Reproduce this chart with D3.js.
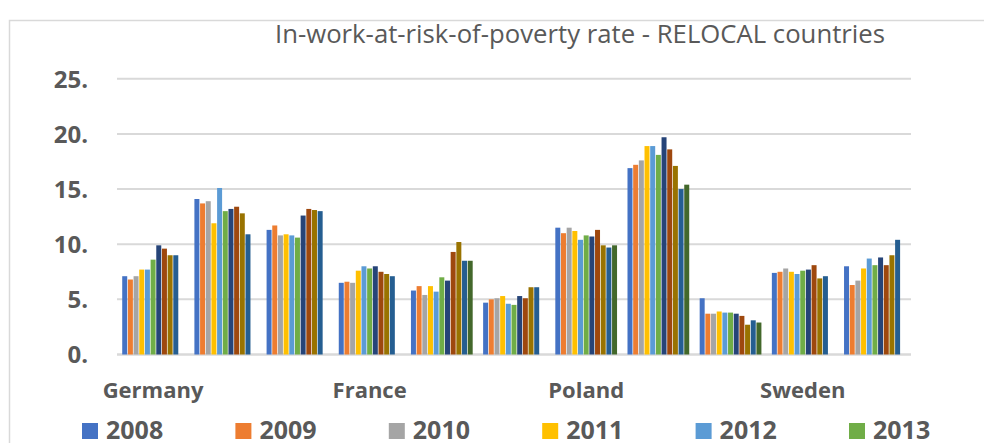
<!DOCTYPE html>
<html>
<head>
<meta charset="utf-8">
<script src="https://cdn.jsdelivr.net/npm/d3@7"></script>
<style>
  html, body { margin: 0; padding: 0; background: #fff; }
  svg { display: block; }
  text { font-family: "Open Sans", "DejaVu Sans", sans-serif; fill: #595959; }
</style>
</head>
<body>
<svg id="chart" width="984" height="443"></svg>
<script>
// In-work at-risk-of-poverty rate (%), by country and year
const countries = ["Germany", "Greece", "Spain", "France", "Hungary", "Netherlands",
                   "Poland", "Romania", "Finland", "Sweden", "United Kingdom"];
const years = ["2008", "2009", "2010", "2011", "2012", "2013",
               "2014", "2015", "2016", "2017", "2018"];
const colors = ["#4472C4", "#ED7D31", "#A5A5A5", "#FFC000", "#5B9BD5", "#70AD47",
                "#264478", "#9E480E", "#997300", "#255E91", "#43682B"];
const yTicks = [0, 5, 10, 15, 20, 25];

// one array per country, 2008..2018 (null = not available)
const germany     = [7.1, 6.8, 7.1, 7.7, 7.7, 8.6, 9.9, 9.6, 9.0, 9.0, null];
const greece      = [14.1, 13.7, 13.9, 11.9, 15.1, 13.0, 13.2, 13.4, 12.8, 10.9, null];
const spain       = [11.3, 11.7, 10.8, 10.9, 10.8, 10.6, 12.6, 13.2, 13.1, 13.0, null];
const france      = [6.5, 6.6, 6.5, 7.6, 8.0, 7.8, 8.0, 7.5, 7.3, 7.1, null];
const hungary     = [5.8, 6.2, 5.4, 6.2, 5.7, 7.0, 6.7, 9.3, 10.2, 8.5, 8.5];
const netherlands = [4.7, 5.0, 5.1, 5.3, 4.6, 4.5, 5.3, 5.1, 6.1, 6.1, null];
const poland      = [11.5, 11.0, 11.5, 11.2, 10.4, 10.8, 10.7, 11.3, 9.9, 9.7, 9.9];
const romania     = [16.9, 17.2, 17.6, 18.9, 18.9, 18.1, 19.7, 18.6, 17.1, 15.0, 15.4];
const finland     = [5.1, 3.7, 3.7, 3.9, 3.8, 3.8, 3.7, 3.5, 2.7, 3.1, 2.9];
const sweden      = [7.4, 7.5, 7.8, 7.5, 7.3, 7.6, 7.7, 8.1, 6.9, 7.1, null];
const uk          = [8.0, 6.3, 6.7, 7.8, 8.7, 8.1, 8.8, 8.1, 9.0, 10.4, null];

const values = [germany, greece, spain, france, hungary, netherlands,
                poland, romania, finland, sweden, uk];

const svg = d3.select("#chart");

// chart area frame
svg.append("rect")
  .attr("x", 9.5).attr("y", 20.5)
  .attr("width", 990).attr("height", 460)
  .attr("fill", "none").attr("stroke", "#d9d9d9").attr("stroke-width", 1.5);

// title
svg.append("text")
  .attr("x", 275).attr("y", 43)
  .attr("font-size", 25)
  .attr("textLength", 610).attr("lengthAdjust", "spacingAndGlyphs")
  .text("In-work-at-risk-of-poverty rate - RELOCAL countries");

const plotLeft = 117, plotRight = 911;

const y = d3.scaleLinear().domain([0, 25]).range([354.5, 78.8]);

const x0 = d3.scaleBand().domain(countries).range([plotLeft, plotRight]);
const x1 = d3.scaleBand().domain(years).range([0, x0.bandwidth()])
  .paddingInner(0.12).paddingOuter(0.92);

// gridlines
svg.append("g")
  .selectAll("line")
  .data(yTicks)
  .join("line")
  .attr("x1", plotLeft).attr("x2", plotRight)
  .attr("y1", d => y(d)).attr("y2", d => y(d))
  .attr("stroke", "#d9d9d9")
  .attr("stroke-width", d => d === 0 ? 2.5 : 2);

// y axis labels
const yAxis = d3.axisLeft(y).tickValues(yTicks).tickFormat(d => d + ".").tickSize(0).tickPadding(0);
const yg = svg.append("g").attr("transform", "translate(88,0)").call(yAxis);
yg.select(".domain").remove();
yg.selectAll("text")
  .attr("font-size", 24).attr("font-weight", "bold")
  .attr("font-family", "\"Open Sans\", sans-serif")
  .attr("fill", "#595959")
  .attr("dy", "0.35em");

// bars
const groups = svg.append("g")
  .selectAll("g")
  .data(countries)
  .join("g")
  .attr("transform", d => `translate(${x0(d)},0)`);

groups.selectAll("rect")
  .data((c, i) => years.map((yr, j) => ({ yr, j, v: values[i][j] })).filter(d => d.v !== null))
  .join("rect")
  .attr("x", d => x1(d.yr))
  .attr("width", x1.bandwidth())
  .attr("y", d => y(d.v))
  .attr("height", d => y(0) - y(d.v))
  .attr("fill", d => colors[d.j]);

// category labels (every third shown)
svg.append("g")
  .selectAll("text")
  .data(countries.filter((c, i) => i % 3 === 0))
  .join("text")
  .attr("x", d => x0(d) + x0.bandwidth() / 2)
  .attr("y", 398)
  .attr("text-anchor", "middle")
  .attr("font-size", 22).attr("font-weight", "bold")
  .text(d => d);

// legend: first row of entries
const legend = svg.append("g")
  .selectAll("g")
  .data(years.slice(0, 6))
  .join("g")
  .attr("transform", (d, i) => `translate(${82 + i * 153.4},423)`);

legend.append("rect")
  .attr("width", 16).attr("height", 16)
  .attr("fill", (d, i) => colors[i]);

legend.append("text")
  .attr("x", 24).attr("y", 16)
  .attr("font-size", 25).attr("font-weight", "bold")
  .text(d => d);
</script>
</body>
</html>
